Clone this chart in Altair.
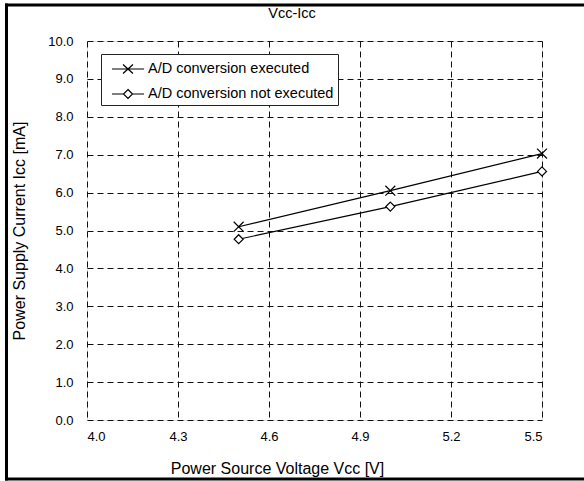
import altair as alt
import pandas as pd

vcc = [4.5, 5.0, 5.5]
icc_exec = [5.10, 6.05, 7.03]
icc_noexec = [4.77, 5.63, 6.56]
series_names = ["A/D conversion executed", "A/D conversion not executed"]
x_ticks = [4.0, 4.3, 4.6, 4.9, 5.2, 5.5]
y_ticks = [0, 1, 2, 3, 4, 5, 6, 7, 8, 9, 10]

rows = []
for v, a, b in zip(vcc, icc_exec, icc_noexec):
    rows.append({"vcc": v, "icc": a, "series": series_names[0]})
    rows.append({"vcc": v, "icc": b, "series": series_names[1]})
df = pd.DataFrame(rows)

FONT = "Arial, Liberation Sans, sans-serif"
W, H = 455, 379

x_enc = alt.X("vcc:Q", scale=alt.Scale(domain=[4.0, 5.5], nice=False, zero=False),
              axis=alt.Axis(values=x_ticks, format=".1f", title="Power Source Voltage Vcc [V]",
                            grid=True, gridDash=[6, 4], gridColor="#111", gridWidth=1,
                            ticks=False, domain=False, labelPadding=10, titlePadding=17,
                            titleX=190, titleAlign="center",
                            labelFontSize=13, titleFontSize=16, labelColor="black",
                            titleColor="black", titleFontWeight="normal",
                            labelOverlap=False))
y_enc = alt.Y("icc:Q", scale=alt.Scale(domain=[0, 10], nice=False),
              axis=alt.Axis(values=y_ticks, format=".1f", title="Power Supply Current Icc [mA]",
                            grid=True, gridDash=[6, 4], gridColor="#111", gridWidth=1,
                            ticks=False, domain=False, labelPadding=14, titlePadding=20,
                            labelFontSize=13, titleFontSize=16, labelColor="black",
                            titleColor="black", titleFontWeight="normal",
                            labelOverlap=False))

mark_paths = ["M-0.55,-0.55L0.55,0.55M-0.55,0.55L0.55,-0.55",
              "M0,-0.5L0.5,0L0,0.5L-0.5,0Z"]
legend_paths = [
    "M-1.6,0H1.6M-0.5,-0.45L0.5,0.45M-0.5,0.45L0.5,-0.45",
    "M-1.6,0H-0.45M0.45,0H1.6M0,-0.45L0.45,0L0,0.45L-0.45,0Z",
]

base = alt.Chart(df)

lines = base.mark_line(color="black", strokeWidth=1.2).encode(
    x=x_enc, y=y_enc, detail="series:N")

points = base.mark_point(filled=True, fill="white", stroke="black", strokeWidth=1.2,
                         size=324, opacity=1).encode(
    x=x_enc, y=y_enc,
    shape=alt.Shape("series:N", scale=alt.Scale(domain=series_names, range=mark_paths),
                    legend=None))

legend_layer = base.mark_point(size=0, filled=False, stroke="black", strokeWidth=1.2,
                               opacity=1).encode(
    x=x_enc, y=y_enc,
    shape=alt.Shape("series:N", scale=alt.Scale(domain=series_names, range=legend_paths),
                    legend=alt.Legend(title=None, orient="none", legendX=14, legendY=13,
                                      strokeColor="#222", fillColor="white",
                                      padding=4, rowPadding=7, symbolSize=400,
                                      symbolOffset=12, symbolOpacity=1,
                                      symbolStrokeColor="black", symbolFillColor="white",
                                      symbolStrokeWidth=1.2, labelOffset=9,
                                      labelFontSize=14.5, labelFont=FONT,
                                      labelColor="black", labelLimit=400)))

title = alt.Chart(pd.DataFrame({"t": ["Vcc-Icc"]})).mark_text(
    fontSize=14.5, font=FONT, color="black", baseline="middle", align="center").encode(
    text="t:N", x=alt.value(205), y=alt.value(-27))

frame_src = pd.DataFrame({"a": [0]})
frame_left = alt.Chart(frame_src).mark_rule(color="black", strokeWidth=3, clip=False).encode(
    x=alt.value(-80.5), y=alt.value(-37.5), y2=alt.value(439.5))
frame_top = alt.Chart(frame_src).mark_rule(color="black", strokeWidth=3, clip=False).encode(
    x=alt.value(-82), x2=alt.value(540), y=alt.value(-36))
frame_bottom = alt.Chart(frame_src).mark_rule(color="black", strokeWidth=3, clip=False).encode(
    x=alt.value(-82), x2=alt.value(540), y=alt.value(438))

chart = alt.layer(lines, points, legend_layer, title,
                  frame_left, frame_top, frame_bottom).resolve_scale(
    shape="independent").properties(
    width=W, height=H, autosize="none",
    padding={"left": 87, "top": 41, "right": 42, "bottom": 61},
    background="white",
).configure_view(stroke="#333", strokeWidth=1).configure(font=FONT)

chart.save("out.html", embed_options={"renderer": "svg", "actions": False})
